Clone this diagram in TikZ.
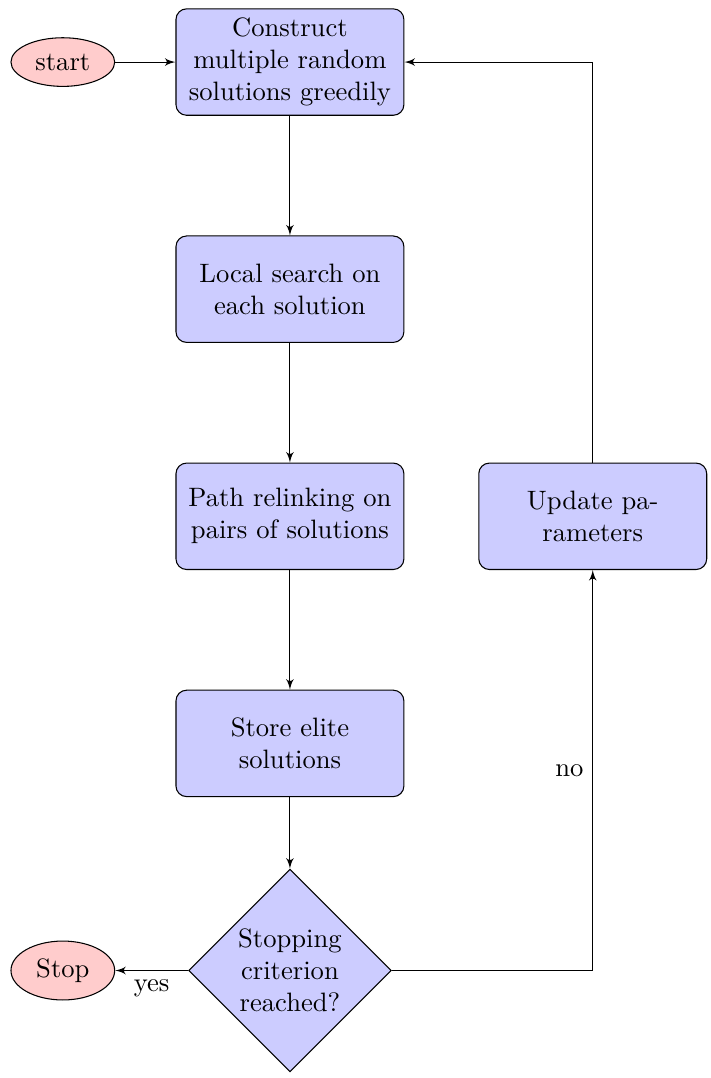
\documentclass[tikz,border=0pt]{standalone}
\usetikzlibrary{shapes.geometric,arrows}
\begin{document}
\begin{tikzpicture}[
    block/.style={rectangle, draw, fill=blue!20, text width=7.9em, text centered,
                  rounded corners, minimum height=4em},
    decision/.style={diamond, draw, fill=blue!20, text width=4.5em, text centered,
                     inner sep=0pt, minimum size=2.64cm},
    terminal/.style={ellipse, draw, fill=red!20, minimum width=1.37cm, minimum height=0.63cm},
    line/.style={draw, -latex'}]
    \useasboundingbox (-3.83, 0.82) rectangle (5.56, -13.42);

    % Knoten
    \node[block] (construct) at (0, 0) {Construct multiple random solutions greedily};
    \node[block] (local) at (0, -3) {Local search on each solution};
    \node[block] (relink) at (0, -6) {Path relinking on pairs of solutions};
    \node[block] (elite) at (0, -9) {Store elite solutions};
    \node[decision] (stop) at (0, -12) {Stopping criterion reached?};
    \node[block] (update) at (4, -6) {Update parameters};
    \node[terminal] (start) at (-3, 0) {start};
    \node[terminal] (end) at (-3, -12) {Stop};

    % Verbindungen
    \path[line] (start) -- (construct);
    \path[line] (construct) -- (local);
    \path[line] (local) -- (relink);
    \path[line] (relink) -- (elite);
    \path[line] (elite) -- (stop);
    \path[line] (stop) -- node[below] {yes} (end);
    \path[line] (stop) -| node[near end, left] {no} (update);
    \path[line] (update) |- (construct);
\end{tikzpicture}
\end{document}
